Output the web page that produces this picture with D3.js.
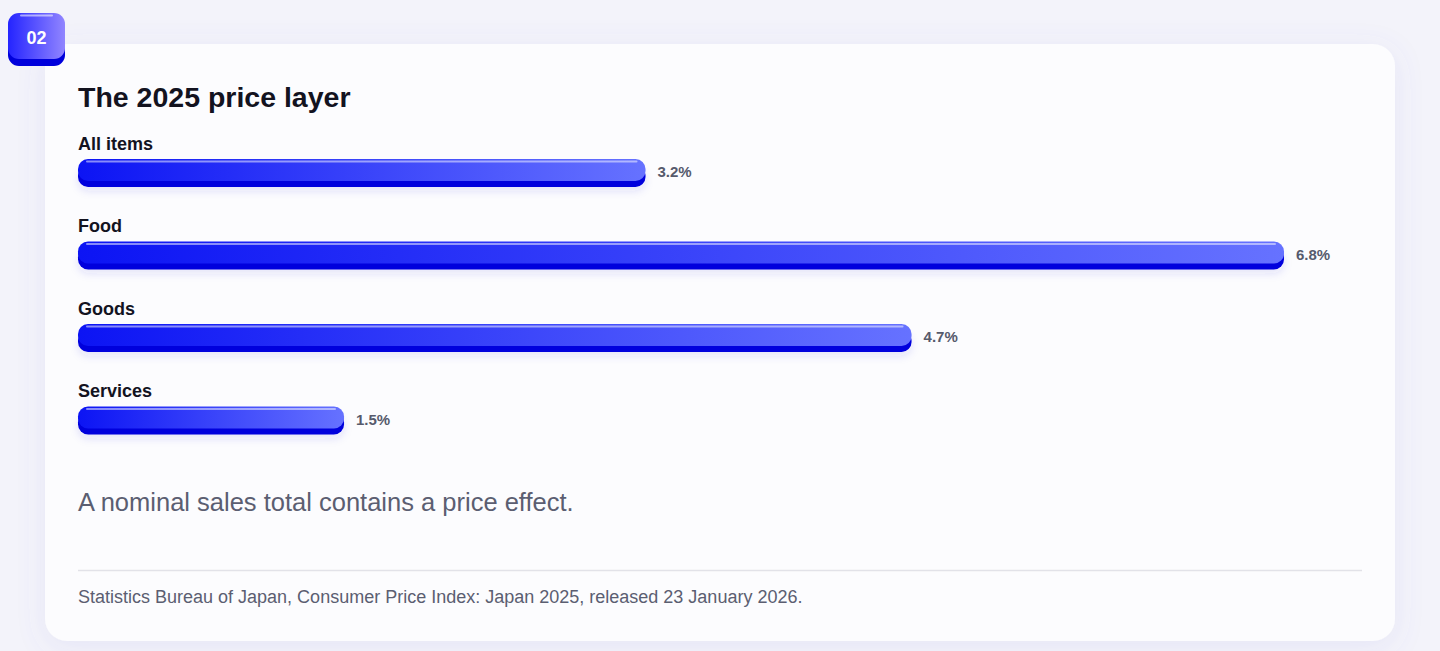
<!DOCTYPE html>
<html>
<head>
<meta charset="utf-8">
<script src="https://cdn.jsdelivr.net/npm/d3@7"></script>
<style>
  html, body { margin: 0; padding: 0; background: #f3f3fa; }
  body { width: 1440px; height: 651px; overflow: hidden; font-family: "Liberation Sans", Arial, Helvetica, sans-serif; }
</style>
</head>
<body>
<div id="chart"></div>
<script>
// data
const categories = ["All items", "Food", "Goods", "Services"];
const values = [3.2, 6.8, 4.7, 1.5];
const valueLabels = ["3.2%", "6.8%", "4.7%", "1.5%"];
const badgeText = "02";
const titleText = "The 2025 price layer";
const noteText = "A nominal sales total contains a price effect.";
const sourceText = "Statistics Bureau of Japan, Consumer Price Index: Japan 2025, released 23 January 2026.";

const W = 1440, H = 651;
const card = {x: 45, y: 44, w: 1350, h: 597, r: 22};
const left = 78, right = 1362;

const svg = d3.select("#chart")
  .append("svg")
    .attr("width", W)
    .attr("height", H);

const defs = svg.append("defs");

// card shadow
const shadow = defs.append("filter").attr("id", "cardShadow")
  .attr("x", "-10%").attr("y", "-10%").attr("width", "120%").attr("height", "125%");
shadow.append("feDropShadow")
  .attr("dx", 0).attr("dy", 6).attr("stdDeviation", 14)
  .attr("flood-color", "#6b6bd6").attr("flood-opacity", 0.10);

const barShadow = defs.append("filter").attr("id", "barShadow")
  .attr("x", "-5%").attr("y", "-50%").attr("width", "110%").attr("height", "220%");
barShadow.append("feDropShadow")
  .attr("dx", 0).attr("dy", 4).attr("stdDeviation", 4)
  .attr("flood-color", "#2a2ad0").attr("flood-opacity", 0.12);

// bar gradient
const barGrad = defs.append("linearGradient").attr("id", "barGrad")
  .attr("x1", "0%").attr("x2", "100%").attr("y1", "0%").attr("y2", "0%");
barGrad.append("stop").attr("offset", "0%").attr("stop-color", "#0c14f4");
barGrad.append("stop").attr("offset", "100%").attr("stop-color", "#6672ff");

// badge gradient
const badgeGrad = defs.append("linearGradient").attr("id", "badgeGrad")
  .attr("x1", "0%").attr("x2", "100%").attr("y1", "0%").attr("y2", "0%");
badgeGrad.append("stop").attr("offset", "0%").attr("stop-color", "#2424ff");
badgeGrad.append("stop").attr("offset", "100%").attr("stop-color", "#9185ff");

// card
svg.append("rect")
  .attr("x", card.x).attr("y", card.y)
  .attr("width", card.w).attr("height", card.h)
  .attr("rx", card.r)
  .attr("fill", "#fcfcfe")
  .attr("filter", "url(#cardShadow)");

// badge
const badge = svg.append("g").attr("transform", "translate(8,13)");
badge.append("rect")
  .attr("x", 0).attr("y", 6).attr("width", 57).attr("height", 47)
  .attr("rx", 11).attr("fill", "#0000dc");
badge.append("rect")
  .attr("width", 57).attr("height", 46)
  .attr("rx", 11).attr("fill", "url(#badgeGrad)");
badge.append("line")
  .attr("x1", 13).attr("x2", 44).attr("y1", 2.5).attr("y2", 2.5)
  .attr("stroke", "#ffffff").attr("stroke-opacity", 0.55)
  .attr("stroke-width", 2).attr("stroke-linecap", "round");
badge.append("text")
  .attr("x", 28.5).attr("y", 30.5)
  .attr("text-anchor", "middle")
  .attr("fill", "#ffffff")
  .style("font-size", "18px").style("font-weight", 700)
  .text(badgeText);

// title
svg.append("text")
  .attr("x", left).attr("y", 107)
  .attr("fill", "#13131f")
  .style("font-size", "28.5px").style("font-weight", 700)
  .text(titleText);

// scales
const x = d3.scaleLinear()
  .domain([0, d3.max(values)])
  .range([left, 1284]);

const y = d3.scaleBand()
  .domain(categories)
  .range([134, 464])
  .paddingInner(0)
  .paddingOuter(0);

const faceH = 22, depth = 6, rad = 10;

const rows = svg.append("g")
  .selectAll("g")
  .data(categories)
  .join("g")
    .attr("transform", d => `translate(0, ${y(d)})`);

// category labels
rows.append("text")
  .attr("x", left).attr("y", 15.5)
  .attr("fill", "#13131f")
  .style("font-size", "18px").style("font-weight", 700)
  .text(d => d);

// bars: dark base
rows.append("rect")
  .attr("x", x(0))
  .attr("y", 25 + depth)
  .attr("width", (d, i) => x(values[i]) - x(0))
  .attr("height", faceH)
  .attr("rx", rad)
  .attr("fill", "#0000dd")
  .attr("filter", "url(#barShadow)");

// bars: face
rows.append("rect")
  .attr("x", x(0))
  .attr("y", 25)
  .attr("width", (d, i) => x(values[i]) - x(0))
  .attr("height", faceH)
  .attr("rx", rad)
  .attr("fill", "url(#barGrad)");

// bars: highlight
rows.append("line")
  .attr("x1", x(0) + 9)
  .attr("x2", (d, i) => x(values[i]) - 9)
  .attr("y1", 27.5).attr("y2", 27.5)
  .attr("stroke", "#ffffff").attr("stroke-opacity", 0.5)
  .attr("stroke-width", 2).attr("stroke-linecap", "round");

// value labels
rows.append("text")
  .attr("x", (d, i) => x(values[i]) + 12)
  .attr("y", 43)
  .attr("fill", "#565a6c")
  .style("font-size", "15px").style("font-weight", 700)
  .text((d, i) => valueLabels[i]);

// note
svg.append("text")
  .attr("x", left).attr("y", 511)
  .attr("fill", "#5b5e71")
  .style("font-size", "25.5px")
  .text(noteText);

// divider
svg.append("line")
  .attr("x1", left).attr("x2", right)
  .attr("y1", 570.5).attr("y2", 570.5)
  .attr("stroke", "#e2e2e8").attr("stroke-width", 1.5);

// source
svg.append("text")
  .attr("x", left).attr("y", 603)
  .attr("fill", "#5b5e71")
  .style("font-size", "18px")
  .text(sourceText);
</script>
</body>
</html>
